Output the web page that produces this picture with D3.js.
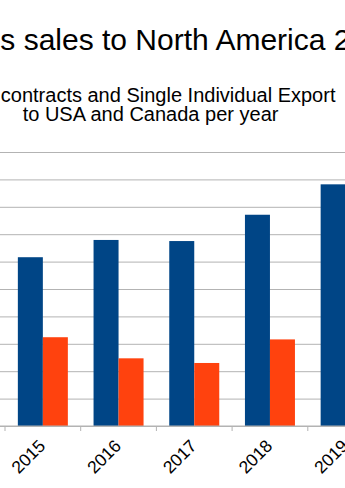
<!DOCTYPE html>
<html><head><meta charset="utf-8">
<script src="https://cdn.jsdelivr.net/npm/d3@7"></script>
<style>html,body{margin:0;padding:0;background:#fff;overflow:hidden}</style>
</head><body>
<svg id="c" width="345" height="488"></svg>
<script>
const years = ["2015", "2016", "2017", "2018", "2019"];
const seriesNames = ["Contracts", "Licences"];
const contracts = [61.6, 67.9, 67.5, 77.1, 88.2];
const licences = [32.4, 24.7, 23.0, 31.6, null];
const yTicks = [0, 10, 20, 30, 40, 50, 60, 70, 80, 90, 100];
const colors = ["#004586", "#ff420e"];
const titleText = "s sales to North America 2";
const subtitleLines = ["contracts and Single Individual Export", "to USA and Canada per year"];

const svg = d3.select("#c");
const font = "'Liberation Sans', Arial, sans-serif";

const x0 = d3.scaleBand().domain(years).range([5, 383.5]).padding(0);
const x1 = d3.scaleBand().domain(seriesNames).range([0, x0.bandwidth()]).paddingInner(0).paddingOuter(0.514);
const y = d3.scaleLinear().domain([0, 100]).range([426, 152]);

// titles
svg.append("text").attr("x", 0.3).attr("y", 50)
  .attr("font-family", font).attr("font-size", 30).attr("fill", "#000")
  .text(titleText);
svg.append("text").attr("x", 0.8).attr("y", 101.5)
  .attr("font-family", font).attr("font-size", 20).attr("fill", "#000")
  .text(subtitleLines[0]);
svg.append("text").attr("x", 22.7).attr("y", 121)
  .attr("font-family", font).attr("font-size", 20).attr("fill", "#000")
  .text(subtitleLines[1]);

// gridlines
const yAxis = d3.axisLeft(y).tickValues(yTicks).tickSize(-420).tickFormat("");
const gy = svg.append("g").attr("transform", "translate(-10,0)").call(yAxis);
gy.select(".domain").remove();
gy.selectAll(".tick line").attr("stroke", "#b3b3b3").attr("stroke-width", 1);

// bars
const data = years.map((yr, i) => ({year: yr, values: [contracts[i], licences[i]]}));
const groups = svg.append("g").selectAll("g").data(data).join("g")
  .attr("transform", d => `translate(${x0(d.year)},0)`);
groups.selectAll("rect")
  .data(d => d.values.map((v, j) => ({key: seriesNames[j], v, j})).filter(e => e.v != null))
  .join("rect")
  .attr("x", e => x1(e.key))
  .attr("width", x1.bandwidth())
  .attr("y", e => y(e.v))
  .attr("height", e => y(0) - y(e.v))
  .attr("fill", e => colors[e.j]);

// x axis
const xAxis = d3.axisBottom(x0).tickSize(0).tickSizeOuter(0);
const gx = svg.append("g").attr("transform", `translate(0,${y(0)})`).call(xAxis);
gx.select(".domain").remove();
gx.selectAll(".tick text").remove();
svg.append("g").selectAll("line").data(years).join("line")
  .attr("x1", d => x0(d)).attr("x2", d => x0(d))
  .attr("y1", y(0)).attr("y2", y(0) + 5)
  .attr("stroke", "#b3b3b3");
svg.append("line").attr("x1", -10).attr("x2", 400).attr("y1", y(0)).attr("y2", y(0)).attr("stroke", "#b3b3b3");

// labels
svg.append("g").selectAll("text").data(years).join("text")
  .attr("transform", d => `translate(${x0(d) + x0.bandwidth() / 2 + 3.5},447) rotate(-45)`)
  .attr("text-anchor", "end")
  .attr("font-family", font).attr("font-size", 17.5).attr("fill", "#000")
  .text(d => d);
</script>
</body></html>
